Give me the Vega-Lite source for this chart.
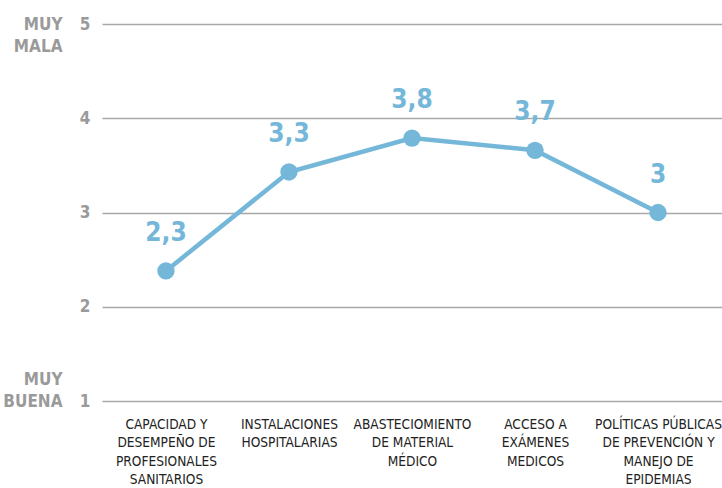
{
  "$schema": "https://vega.github.io/schema/vega-lite/v6.json",
  "width": 620,
  "height": 377,
  "autosize": "none",
  "padding": {"left": 102, "top": 24, "right": 0, "bottom": 87},
  "background": "white",
  "config": {
    "view": {"stroke": null},
    "font": "DejaVu Sans Condensed, Roboto Condensed, Roboto",
    "axis": {"labelFont": "DejaVu Sans Condensed, Roboto Condensed, Roboto"}
  },
  "data": {
    "values": [
      {"cat": "CAPACIDAD Y|DESEMPEÑO DE|PROFESIONALES|SANITARIOS", "value": 2.38, "label": "2,3"},
      {"cat": "INSTALACIONES|HOSPITALARIAS", "value": 3.43, "label": "3,3"},
      {"cat": "ABASTECIOMIENTO|DE MATERIAL|MÉDICO", "value": 3.79, "label": "3,8"},
      {"cat": "ACCESO A|EXÁMENES|MEDICOS", "value": 3.66, "label": "3,7"},
      {"cat": "POLÍTICAS PÚBLICAS|DE PREVENCIÓN Y|MANEJO DE|EPIDEMIAS", "value": 3.0, "label": "3"}
    ]
  },
  "encoding": {
    "x": {
      "field": "cat", "type": "nominal", "sort": null,
      "scale": {"type": "point", "padding": 0.52},
      "axis": {
        "title": null, "domain": false, "ticks": false, "labelAngle": 0,
        "labelExpr": "split(datum.value, '|')",
        "labelFontSize": 13.6, "labelLineHeight": 18.5, "labelColor": "#222",
        "labelPadding": 16, "labelBaseline": "top", "labelAlign": "center"
      }
    }
  },
  "layer": [
    {
      "layer": [
        {
          "mark": {"type": "line", "color": "#74b7d9", "strokeWidth": 4.5}
        },
        {
          "mark": {"type": "point", "filled": true, "opacity": 1, "size": 300, "color": "#74b7d9"}
        }
      ],
      "encoding": {
        "y": {
          "field": "value", "type": "quantitative",
          "scale": {"domain": [1, 5], "nice": false, "zero": false},
          "axis": {
            "title": null, "values": [1, 2, 3, 4, 5], "domain": false, "ticks": false,
            "grid": true, "gridColor": "#a8a8a8", "gridWidth": 1.5,
            "labelFontSize": 17, "labelFontWeight": "bold", "labelColor": "#9a9a9a",
            "labelPadding": 12
          }
        }
      }
    },
    {
      "mark": {"type": "text", "color": "#74b7d9", "fontSize": 26, "fontWeight": "bold", "dy": -38, "baseline": "middle"},
      "encoding": {
        "y": {
          "field": "value", "type": "quantitative",
          "scale": {"domain": [1, 5], "nice": false, "zero": false},
          "axis": {
            "orient": "left", "offset": 40, "title": null, "values": [1, 5],
            "domain": false, "ticks": false, "grid": false,
            "labelExpr": "datum.value == 5 ? ['MUY', 'MALA'] : ['MUY', 'BUENA']",
            "labelFontSize": 17, "labelFontWeight": "bold", "labelColor": "#9a9a9a",
            "labelLineHeight": 22, "labelPadding": 0, "labelBaseline": "middle",
            "labelOffset": {"condition": {"test": "datum.value == 5", "value": 0}, "value": -22}
          }
        },
        "text": {"field": "label"}
      }
    }
  ],
  "resolve": {"scale": {"y": "independent"}}
}
